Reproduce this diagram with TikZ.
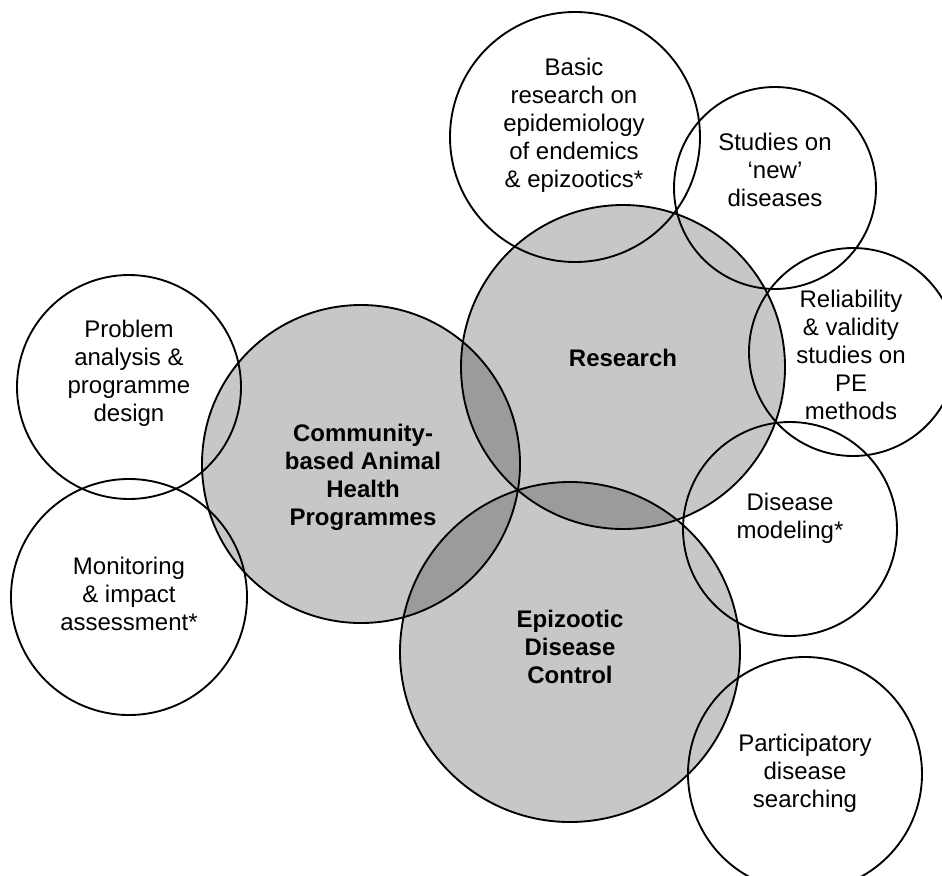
\documentclass[tikz,border=0pt]{standalone}
\usepackage{fontspec}
\setmainfont{Liberation Sans}
\usetikzlibrary{positioning}

\tikzset{
  topic/.style={circle, draw, line width=1.4pt, inner sep=0pt, minimum size=#1*1.5pt},
  core/.style={topic=#1, fill=black, fill opacity=0.22},
  txt/.style={align=center, inner sep=0pt, font=\fontsize{18}{21}\selectfont}
}

\begin{document}
\begin{tikzpicture}[x=0.75pt, y=-0.75pt]
  \useasboundingbox (0,0) rectangle (942,875);
  \clip (0,0) rectangle (942,875);

  % Main areas
  \node[core=162] (research) at (623,367) {};
  \node[core=159] (cbahp) at (361,464) {};
  \node[core=170] (epicontrol) at (570,652) {};

  % Activities
  \node[topic=125] (basic) at (575,137) {};
  \node[topic=101] (newdis) at (775,188) {};
  \node[topic=104] (reliab) at (853,352) {};
  \node[topic=107] (model) at (790,529) {};
  \node[topic=117] (search) at (805,774) {};
  \node[topic=112] (design) at (129,387) {};
  \node[topic=118] (impact) at (129,597) {};

  % Texts
  \node[txt, font=\fontsize{18}{21}\selectfont\bfseries] (researchtxt) at (623,358) {Research};
  \node[txt, font=\fontsize{18}{21}\selectfont\bfseries] (cbahptxt) at (363,477) {Community-\\based Animal\\Health\\Programmes};
  \node[txt, font=\fontsize{18}{21}\selectfont\bfseries] (epicontroltxt) at (570,647) {Epizootic\\Disease\\Control};
  \node[txt] (basictxt) at (574,125) {Basic\\research on\\epidemiology\\of endemics\\\& epizootics*};
  \node[txt] (newdistxt) at (775,170) {Studies on\\`new'\\diseases};
  \node[txt] (reliabtxt) at (851,355) {Reliability\\\& validity\\studies on\\PE\\methods};
  \node[txt] (modeltxt) at (790,518) {Disease\\modeling*};
  \node[txt] (searchtxt) at (805,773) {Participatory\\disease\\searching};
  \node[txt] (designtxt) at (129,373) {Problem\\analysis \&\\programme\\design};
  \node[txt] (impacttxt) at (129,594) {Monitoring\\\& impact\\assessment*};

\end{tikzpicture}
\end{document}
